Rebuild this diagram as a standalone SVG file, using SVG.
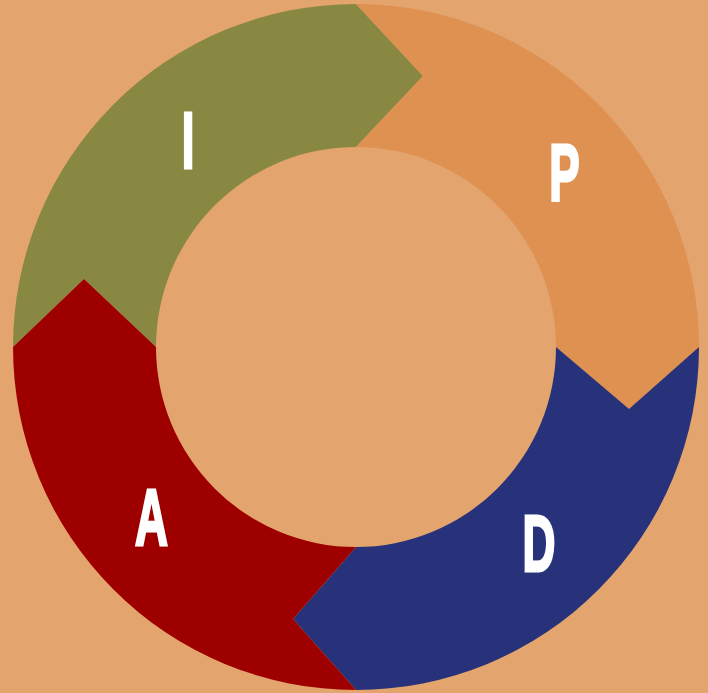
<svg xmlns="http://www.w3.org/2000/svg" width="708" height="693" viewBox="0 0 708 693">
  <style>
    .lbl { font-family: "Liberation Sans", Arial, sans-serif; font-weight: bold; font-size: 80px; fill: #FFFFFF; stroke: #FFFFFF; stroke-width: 3; text-anchor: middle; }
  </style>
  <rect x="0" y="0" width="708" height="693" fill="#E3A46E"/>
  <g id="connectors"/>
  <g id="node-I">
    <path d="M13,347 A343,343 0 0 1 356,4 L423,76 L356,147 A200,200 0 0 0 156,347 L84,279 Z" fill="#888843"/>
    <text class="lbl" transform="translate(188,167.5) scale(0.57,1)" x="0" y="0">I</text>
  </g>
  <g id="node-P">
    <path d="M356,4 A343,343 0 0 1 699,347 L629,409 L556,347 A200,200 0 0 0 356,147 L423,76 Z" fill="#DE9150"/>
    <text class="lbl" transform="translate(564.5,199.5) scale(0.57,1)" x="0" y="0">P</text>
  </g>
  <g id="node-D">
    <path d="M699,347 A343,343 0 0 1 356,690 L293,619 L356,547 A200,200 0 0 0 556,347 L629,409 Z" fill="#28327A"/>
    <text class="lbl" transform="translate(539,570.5) scale(0.57,1)" x="0" y="0">D</text>
  </g>
  <g id="node-A">
    <path d="M356,690 A343,343 0 0 1 13,347 L84,279 L156,347 A200,200 0 0 0 356,547 L293,619 Z" fill="#9E0000"/>
    <text class="lbl" transform="translate(151.5,544.5) scale(0.57,1)" x="0" y="0">A</text>
  </g>
</svg>
